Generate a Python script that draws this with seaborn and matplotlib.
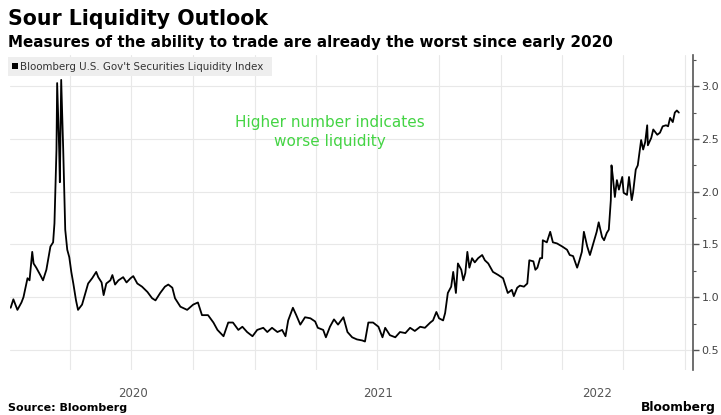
import matplotlib
matplotlib.use("Agg")
import matplotlib.pyplot as plt
from matplotlib.patches import Rectangle
import pandas as pd
import seaborn as sns

sns.set_theme(style="white")
plt.rcParams["font.family"] = ["DejaVu Sans"]

# Bloomberg U.S. Gov't Securities Liquidity Index, sampled observations
dates_2020 = [
    "2020-01-04", "2020-01-08", "2020-01-14", "2020-01-20", "2020-01-23", "2020-01-29",
    "2020-02-01", "2020-02-05", "2020-02-07", "2020-02-11", "2020-02-17", "2020-02-21",
    "2020-02-26", "2020-03-03", "2020-03-07", "2020-03-09", "2020-03-12", "2020-03-13",
    "2020-03-16", "2020-03-17", "2020-03-19", "2020-03-22", "2020-03-25", "2020-03-28",
    "2020-03-31", "2020-04-03", "2020-04-06", "2020-04-10", "2020-04-13", "2020-04-19",
    "2020-04-24", "2020-04-28", "2020-05-04", "2020-05-10", "2020-05-13", "2020-05-18",
    "2020-05-21", "2020-05-25", "2020-05-31", "2020-06-03", "2020-06-07", "2020-06-12",
    "2020-06-19", "2020-06-24", "2020-06-30", "2020-07-04", "2020-07-10", "2020-07-17",
    "2020-07-25", "2020-08-01", "2020-08-06", "2020-08-13", "2020-08-20", "2020-08-25",
    "2020-08-31", "2020-09-04", "2020-09-12", "2020-09-22", "2020-10-01", "2020-10-08",
    "2020-10-14", "2020-10-23", "2020-10-31", "2020-11-06", "2020-11-15", "2020-11-22",
    "2020-11-29", "2020-12-07", "2020-12-13", "2020-12-20", "2020-12-28",
]
values_2020 = [
    0.90, 0.98, 0.88, 0.95, 1.00, 1.18,
    1.16, 1.43, 1.32, 1.28, 1.21, 1.16,
    1.26, 1.48, 1.52, 1.70, 2.40, 3.03,
    2.40, 2.09, 3.06, 2.40, 1.64, 1.45,
    1.38, 1.24, 1.13, 0.97, 0.88, 0.93,
    1.04, 1.13, 1.18, 1.24, 1.19, 1.14,
    1.02, 1.13, 1.16, 1.21, 1.12, 1.16,
    1.19, 1.14, 1.18, 1.20, 1.13, 1.10,
    1.05, 0.99, 0.97, 1.04, 1.10, 1.12,
    1.09, 0.99, 0.91, 0.88, 0.93, 0.95,
    0.83, 0.83, 0.76, 0.69, 0.63, 0.76,
    0.76, 0.69, 0.72, 0.67, 0.63,
]

dates_2021 = [
    "2021-01-04", "2021-01-13", "2021-01-19", "2021-01-26", "2021-02-03", "2021-02-10",
    "2021-02-15", "2021-02-19", "2021-02-26", "2021-03-03", "2021-03-09", "2021-03-16",
    "2021-03-24", "2021-03-31", "2021-04-04", "2021-04-12", "2021-04-16", "2021-04-22",
    "2021-04-28", "2021-05-04", "2021-05-12", "2021-05-18", "2021-05-25", "2021-06-01",
    "2021-06-09", "2021-06-13", "2021-06-18", "2021-06-25", "2021-07-03", "2021-07-09",
    "2021-07-13", "2021-07-20", "2021-07-28", "2021-08-04", "2021-08-12", "2021-08-19",
    "2021-08-26", "2021-09-03", "2021-09-10", "2021-09-18", "2021-09-22", "2021-09-27",
    "2021-10-01", "2021-10-07", "2021-10-10", "2021-10-14", "2021-10-19", "2021-10-22",
    "2021-10-26", "2021-10-29", "2021-11-03", "2021-11-06", "2021-11-09", "2021-11-12",
    "2021-11-15", "2021-11-19", "2021-11-23", "2021-11-28", "2021-12-04", "2021-12-08",
    "2021-12-13", "2021-12-20", "2021-12-28",
]
values_2021 = [
    0.69, 0.71, 0.67, 0.71, 0.67, 0.69,
    0.63, 0.78, 0.90, 0.83, 0.74, 0.81,
    0.80, 0.77, 0.71, 0.69, 0.62, 0.72,
    0.79, 0.74, 0.81, 0.67, 0.62, 0.60,
    0.59, 0.58, 0.76, 0.76, 0.72, 0.62,
    0.71, 0.64, 0.62, 0.67, 0.66, 0.71,
    0.68, 0.72, 0.71, 0.76, 0.78, 0.86,
    0.80, 0.78, 0.85, 1.04, 1.10, 1.24,
    1.04, 1.32, 1.26, 1.16, 1.23, 1.43,
    1.28, 1.37, 1.33, 1.37, 1.40, 1.35,
    1.32, 1.24, 1.21,
]

dates_2022 = [
    "2022-01-04", "2022-01-08", "2022-01-11", "2022-01-17", "2022-01-20", "2022-01-25",
    "2022-01-29", "2022-02-04", "2022-02-09", "2022-02-12", "2022-02-18", "2022-02-21",
    "2022-02-24", "2022-02-28", "2022-03-03", "2022-03-04", "2022-03-10", "2022-03-15",
    "2022-03-19", "2022-03-25", "2022-04-02", "2022-04-09", "2022-04-13", "2022-04-18",
    "2022-04-24", "2022-04-27", "2022-05-01", "2022-05-04", "2022-05-09", "2022-05-13",
    "2022-05-18", "2022-05-23", "2022-05-26", "2022-05-31", "2022-06-03", "2022-06-07",
    "2022-06-10", "2022-06-13", "2022-06-14", "2022-06-16", "2022-06-19", "2022-06-22",
    "2022-06-25", "2022-06-30", "2022-07-02", "2022-07-07", "2022-07-10", "2022-07-14",
    "2022-07-16", "2022-07-20", "2022-07-23", "2022-07-28", "2022-07-31", "2022-08-03",
    "2022-08-06", "2022-08-07", "2022-08-12", "2022-08-15", "2022-08-21", "2022-08-25",
    "2022-08-29", "2022-09-03", "2022-09-06", "2022-09-09", "2022-09-13", "2022-09-16",
    "2022-09-19", "2022-09-22",
]
values_2022 = [
    1.18, 1.10, 1.04, 1.07, 1.01, 1.09,
    1.11, 1.10, 1.13, 1.35, 1.34, 1.26,
    1.28, 1.37, 1.37, 1.54, 1.52, 1.62,
    1.52, 1.51, 1.48, 1.45, 1.40, 1.39,
    1.28, 1.34, 1.43, 1.62, 1.48, 1.40,
    1.51, 1.62, 1.71, 1.57, 1.54, 1.61,
    1.64, 1.92, 2.25, 2.14, 1.95, 2.11,
    2.02, 2.14, 1.99, 1.97, 2.14, 1.92,
    1.99, 2.21, 2.25, 2.49, 2.40, 2.47,
    2.63, 2.44, 2.51, 2.59, 2.54, 2.56,
    2.62, 2.63, 2.62, 2.70, 2.66, 2.75,
    2.77, 2.75,
]

series_name = "Bloomberg U.S. Gov't Securities Liquidity Index"
year_labels = ["2020", "2021", "2022"]
y_ticks = [0.5, 1.0, 1.5, 2.0, 2.5, 3.0]

df = pd.DataFrame({
    "date": pd.to_datetime(dates_2020 + dates_2021 + dates_2022),
    "value": values_2020 + values_2021 + values_2022,
})

W, H = 721, 415
fig = plt.figure(figsize=(W / 100, H / 100), dpi=100)
fig.patch.set_facecolor("white")
ax = fig.add_axes([10 / W, 45 / H, 683 / W, 315 / H])

sns.lineplot(data=df, x="date", y="value", ax=ax, color="black", linewidth=1.3)

x_start = pd.Timestamp("2020-01-03")
x_end = pd.Timestamp("2022-10-13")
ax.set_xlim(x_start, x_end)
ax.set_ylim(0.31, 3.296)

# quarterly grid, year labels centred on the visible part of each year
quarters = pd.date_range("2020-04-01", "2022-10-01", freq="QS")
ax.set_xticks(quarters, minor=True)
bounds = [x_start, pd.Timestamp("2021-01-01"), pd.Timestamp("2022-01-01"), x_end]
mids = [bounds[i] + (bounds[i + 1] - bounds[i]) / 2 for i in range(3)]
ax.set_xticks(mids)
ax.set_xticklabels(year_labels)
ax.tick_params(axis="x", which="both", length=0, pad=12, labelsize=8.5,
               labelcolor="#555555")
ax.grid(False)
ax.grid(which="minor", axis="x", color="#e8e8e8", linewidth=0.8)

ax.yaxis.tick_right()
ax.set_yticks(y_ticks)
ax.set_yticklabels([f"{t:.1f}" for t in y_ticks])
ax.set_yticks([0.75, 1.25, 1.75, 2.25, 2.75, 3.25], minor=True)
ax.grid(which="major", axis="y", color="#e8e8e8", linewidth=0.8)
ax.tick_params(axis="y", which="major", direction="out", length=4, width=1,
               color="#555555", labelsize=8, labelcolor="#444444", pad=2)
ax.tick_params(axis="y", which="minor", direction="out", length=2.5, width=0.8,
               color="#555555")
ax.set_xlabel("")
ax.set_ylabel("")
for side in ["top", "left", "bottom"]:
    ax.spines[side].set_visible(False)
ax.spines["right"].set_visible(True)
ax.spines["right"].set_color("#555555")
ax.spines["right"].set_linewidth(1.2)

# legend band
fig.add_artist(Rectangle((8 / W, 1 - 76 / H), 264 / W, 19 / H,
                         transform=fig.transFigure, facecolor="#eeeeee",
                         edgecolor="none", zorder=3))
fig.add_artist(Rectangle((12 / W, 1 - 69.5 / H), 6 / W, 6 / H,
                         transform=fig.transFigure, facecolor="black",
                         edgecolor="none", zorder=4))
fig.text(20 / W, 1 - 66.5 / H, series_name, fontsize=7.4, color="#333333",
         va="center", ha="left", zorder=5)

fig.text(330 / W, 1 - 132 / H, "Higher number indicates\nworse liquidity",
         fontsize=11, color="#44d444", ha="center", va="center", linespacing=1.3)

fig.text(8 / W, 1 - 25 / H, "Sour Liquidity Outlook", fontsize=14.8,
         fontweight="bold", color="black", va="baseline", ha="left")
fig.text(8 / W, 1 - 47 / H,
         "Measures of the ability to trade are already the worst since early 2020",
         fontsize=10.9, fontweight="bold", color="black", va="baseline", ha="left")
fig.text(8 / W, 1 - 411 / H, "Source: Bloomberg", fontsize=8,
         fontweight="bold", color="black", va="baseline", ha="left")
fig.text(716 / W, 1 - 411 / H, "Bloomberg", fontsize=8.8,
         fontweight="bold", color="black", va="baseline", ha="right")

fig.savefig("out.png", dpi=100)
